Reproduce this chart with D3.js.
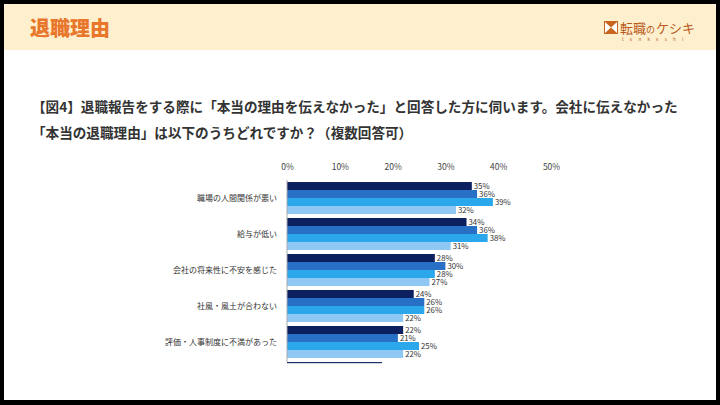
<!DOCTYPE html>
<html><head><meta charset="utf-8">
<script src="https://cdn.jsdelivr.net/npm/d3@7"></script>
<style>
html,body{margin:0;padding:0;background:#000;}
svg{display:block;}
</style></head>
<body>
<svg id="c" width="720" height="405"></svg>
<script>
const categories = ["職場の人間関係が悪い","給与が低い","会社の将来性に不安を感じた","社風・風土が合わない","評価・人事制度に不満があった"];
const seriesNames = ["s1","s2","s3","s4"];
const series1 = [35,34,28,24,22];
const series2 = [36,36,30,26,21];
const series3 = [39,38,28,26,25];
const series4 = [32,31,27,22,22];
const tickValues = [0,10,20,30,40,50];
const colors = ["#0c1f5e","#2870c6","#2ba7ec","#90c8f4"];

const svg = d3.select("#c");
const font = "'Noto Sans CJK JP','Noto Sans',sans-serif";

// page frame
svg.append("rect").attr("x",4).attr("y",4).attr("width",712).attr("height",396).attr("fill","#ffffff");
svg.append("rect").attr("x",4).attr("y",4).attr("width",712).attr("height",46).attr("fill","#fef0cf");
svg.append("text").attr("x",30).attr("y",36).attr("font-family",font).attr("font-weight","900")
  .attr("font-size",20).attr("fill","#e8772c").text("退職理由");

// logo
const lg = svg.append("g");
lg.append("rect").attr("x",604).attr("y",21).attr("width",14).attr("height",13).attr("fill","#c8641e");
lg.append("path").attr("d","M605,22 L611,27.5 L605,33 Z M617,22 L611,27.5 L617,33 Z").attr("fill","#ffffff");
lg.append("text").attr("x",620).attr("y",33).attr("font-family",font).attr("font-size",13)
  .attr("fill","#b85a1b").text("転職");
lg.append("text").attr("x",646).attr("y",33).attr("font-family",font).attr("font-size",9)
  .attr("fill","#b85a1b").text("の");
lg.append("text").attr("x",656).attr("y",33).attr("font-family",font).attr("font-size",13)
  .attr("fill","#b85a1b").text("ケシキ");
lg.append("text").attr("x",622).attr("y",41).attr("font-family",font).attr("font-size",4.5)
  .attr("letter-spacing","6.2").attr("fill","#b85a1b").text("tenkeshi");

// question
const q = svg.append("g").attr("font-family",font).attr("font-weight","bold").attr("font-size",13.6).attr("fill","#333");
q.append("text").attr("x",32).attr("y",112).text("【図4】退職報告をする際に「本当の理由を伝えなかった」と回答した方に伺います。会社に伝えなかった");
q.append("text").attr("x",32).attr("y",138).text("「本当の退職理由」は以下のうちどれですか？（複数回答可）");

// chart
const x = d3.scaleLinear().domain([0,50]).range([287,551]);
const y = d3.scaleBand().domain(categories).range([182,358]).paddingInner(0.111).paddingOuter(0);
const yi = d3.scaleBand().domain(seriesNames).range([0,y.bandwidth()]);
const allSeries = [series1,series2,series3,series4];

const xAxis = d3.axisTop(x).tickValues(tickValues).tickFormat(d=>d+"%").tickSize(0).tickPadding(0);
const ga = svg.append("g").attr("transform","translate(0,170)").call(xAxis);
ga.select(".domain").remove();
ga.selectAll("text").attr("font-family",font).attr("font-size",8.5).attr("fill","#444");

const groups = svg.append("g").selectAll("g").data(categories).join("g")
  .attr("transform",d=>`translate(0,${y(d)})`);
groups.each(function(cat,i){
  const g = d3.select(this);
  allSeries.forEach((s,j)=>{
    g.append("rect").attr("x",x(0)).attr("y",yi(seriesNames[j]))
      .attr("width",x(s[i])-x(0)).attr("height",yi.bandwidth()).attr("fill",colors[j]);
    g.append("text").attr("x",x(s[i])+2).attr("y",yi(seriesNames[j])+yi.bandwidth()/2+3.2)
      .attr("font-family",font).attr("font-size",7.8).attr("fill","#333").text(s[i]+"%");
  });
});

// category axis
const yAxis = d3.axisLeft(y).tickSize(0).tickPadding(10);
const gy = svg.append("g").attr("transform",`translate(${x(0)},0)`).call(yAxis);
gy.select(".domain").attr("stroke","#aaa").attr("d",`M0,180V362`);
gy.selectAll("text").attr("font-family",font).attr("font-size",8).attr("fill","#333");

// cut-off legend remnant
svg.append("rect").attr("x",x(0)).attr("y",362).attr("width",x(18)-x(0)).attr("height",1.2).attr("fill","#1d2f66");
</script>
</body></html>
